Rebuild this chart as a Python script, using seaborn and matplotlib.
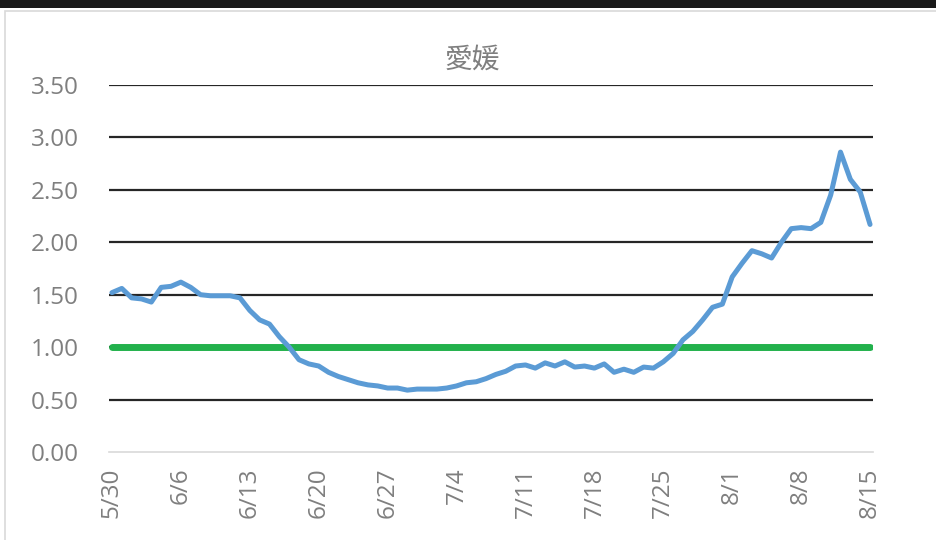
import matplotlib
matplotlib.use("Agg")
import matplotlib.pyplot as plt
from matplotlib.patches import Rectangle
import numpy as np
import pandas as pd
import seaborn as sns

# Data
start_date = "2020-05-30"
values = [1.52, 1.56, 1.47, 1.46, 1.43, 1.57, 1.58, 1.62, 1.57, 1.50,
          1.49, 1.49, 1.49, 1.47, 1.35, 1.26, 1.22, 1.10, 1.00, 0.88,
          0.84, 0.82, 0.76, 0.72, 0.69, 0.66, 0.64, 0.63, 0.61, 0.61,
          0.59, 0.60, 0.60, 0.60, 0.61, 0.63, 0.66, 0.67, 0.70, 0.74,
          0.77, 0.82, 0.83, 0.80, 0.85, 0.82, 0.86, 0.81, 0.82, 0.80,
          0.84, 0.76, 0.79, 0.76, 0.81, 0.80, 0.86, 0.94, 1.07, 1.15,
          1.26, 1.38, 1.41, 1.67, 1.80, 1.92, 1.89, 1.85, 2.00, 2.13,
          2.14, 2.13, 2.19, 2.45, 2.86, 2.60, 2.48, 2.17]
reference_level = [1.0] * len(values)
title = "愛媛"
y_ticks = [0.0, 0.5, 1.0, 1.5, 2.0, 2.5, 3.0, 3.5]

dates = pd.date_range(start_date, periods=len(values), freq="D")
df = pd.DataFrame({"day": np.arange(len(values)), "value": values, "ref": reference_level})
tick_days = list(range(0, len(values), 7))
tick_labels = [f"{dates[d].month}/{dates[d].day}" for d in tick_days]

sns.set_theme(style="white")
plt.rcParams["font.family"] = ["Open Sans", "Noto Sans CJK JP", "DejaVu Sans"]

fig = plt.figure(figsize=(9.36, 5.4), dpi=100)
W, H = 936, 540
# screenshot frame
fig.patches.append(Rectangle((0, (H - 8) / H), 1, 8 / H, transform=fig.transFigure,
                             facecolor="#1a1a1a", edgecolor="none", zorder=-2))
fig.patches.append(Rectangle((5 / W, -0.05), 1.2, (H - 11) / H + 0.05, transform=fig.transFigure,
                             facecolor="white", edgecolor="#d9d9d9", linewidth=1.2, zorder=-1))

ax = fig.add_axes([109 / W, 88 / H, (873 - 109) / W, (452 - 85) / H])
ax.set_zorder(2)
ax.set_facecolor("none")

sns.lineplot(data=df, x="day", y="ref", ax=ax, color="#22b14c", linewidth=5.0,
             solid_capstyle="round", zorder=3)
sns.lineplot(data=df, x="day", y="value", ax=ax, color="#5b9bd5", linewidth=3.6,
             solid_capstyle="round", solid_joinstyle="round", zorder=4)

ax.set_xlim(-0.3, len(values) - 1 + 0.3)
ax.set_ylim(0, 3.5)
ax.set_yticks(y_ticks)
ax.set_yticklabels([f"{v:.2f}" for v in y_ticks])
ax.set_xticks(tick_days)
ax.set_xticklabels(tick_labels, rotation=90)

for v in y_ticks[1:]:
    ax.axhline(v, color="#262626", linewidth=1.6, zorder=1)

for s in ["top", "right", "left"]:
    ax.spines[s].set_visible(False)
ax.spines["bottom"].set_color("#d9d9d9")
ax.spines["bottom"].set_linewidth(1.2)

ax.tick_params(axis="y", length=0, pad=22, labelsize=17.5, labelcolor="#7f7f7f")
ax.tick_params(axis="x", length=0, pad=11, labelsize=17.5, labelcolor="#7f7f7f")
ax.set_xlabel("")
ax.set_ylabel("")

fig.text(472 / W, 1 - 60 / H, title, ha="center", va="center", fontsize=20,
         color="#7f7f7f", family=["Noto Sans CJK JP", "DejaVu Sans"])

fig.savefig("out.png", dpi=100)
